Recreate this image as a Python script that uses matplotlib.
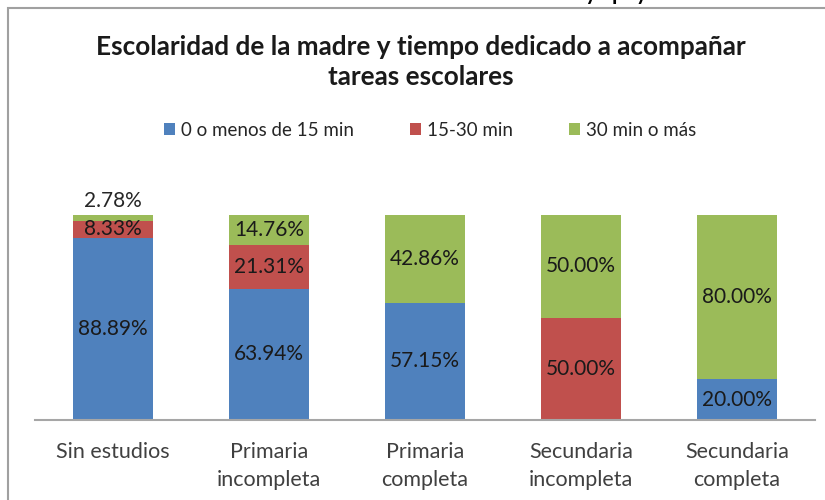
import matplotlib.pyplot as plt
from matplotlib.patches import Rectangle

categories = ["Sin estudios", "Primaria\nincompleta", "Primaria\ncompleta",
              "Secundaria\nincompleta", "Secundaria\ncompleta"]
menos_15 = [88.89, 63.94, 57.15, 0.0, 20.00]
de_15_30 = [8.33, 21.31, 0.0, 50.00, 0.0]
mas_30 = [2.78, 14.76, 42.86, 50.00, 80.00]
series_names = ["0 o menos de 15 min", "15-30 min", "30 min o más"]
colors = ["#4F81BD", "#C0504D", "#9BBB59"]

plt.rcParams['font.family'] = ['Lato', 'DejaVu Sans']

fig = plt.figure(figsize=(8.25, 5), dpi=100)
ax = fig.add_axes([35 / 825, 80 / 500, 780 / 825, 205 / 500])

x = list(range(len(categories)))
bottom = [0.0] * len(categories)
bars = []
for vals, name, col in zip([menos_15, de_15_30, mas_30], series_names, colors):
    b = ax.bar(x, vals, width=0.51, bottom=bottom, color=col, label=name)
    bars.append(b)
    for i, v in enumerate(vals):
        if v <= 0:
            continue
        if v < 5:
            # too thin, label above the bar
            ax.text(i, bottom[i] + v + 2.0, f"{v:.2f}%", ha='center', va='bottom',
                    fontsize=15, color='#262626', clip_on=False)
        else:
            ax.text(i, bottom[i] + v / 2, f"{v:.2f}%", ha='center', va='center',
                    fontsize=15, color='#1a1a1a', clip_on=False)
    bottom = [b0 + v for b0, v in zip(bottom, vals)]

ax.set_xlim(-0.5, 4.5)
ax.set_ylim(0, 100)
ax.set_xticks(x)
ax.set_xticklabels(categories, fontsize=15.5, color='#404040', linespacing=1.5)
ax.tick_params(axis='x', length=0, pad=16)
ax.set_yticks([])
for s in ['top', 'right', 'left']:
    ax.spines[s].set_visible(False)
ax.spines['bottom'].set_color('#a6a6a6')
ax.spines['bottom'].set_linewidth(1.5)

fig.text(0.51, 1 - 62 / 500, "Escolaridad de la madre y tiempo dedicado a acompañar\ntareas escolares",
         ha='center', va='center', fontsize=18.8, fontweight='bold', color='#1a1a1a',
         linespacing=1.3)

fig.legend(handles=bars, labels=series_names, loc='center', bbox_to_anchor=(0.521, 1 - 130 / 500),
           ncol=3, frameon=False, fontsize=13.5, handlelength=0.6, handleheight=0.6,
           handletextpad=0.3, columnspacing=3.0, labelcolor='#262626')

# chart border (cropped screenshot)
fig.patches.append(Rectangle((8 / 825, -0.1), 2.0, 1.1 - 8 / 500, transform=fig.transFigure,
                             fill=False, edgecolor='#a0a0a0', linewidth=1.5))

# cut-off caption from the surrounding document
fig.text(0.02, 1 + 0.5 / 500, "Gráfica 11. Relación entre el nivel de escolaridad de la madre y apoyo de la madre en las tareas",
         ha='left', va='baseline', fontsize=15, fontweight='bold', color='black')

fig.savefig("out.png", dpi=100)
